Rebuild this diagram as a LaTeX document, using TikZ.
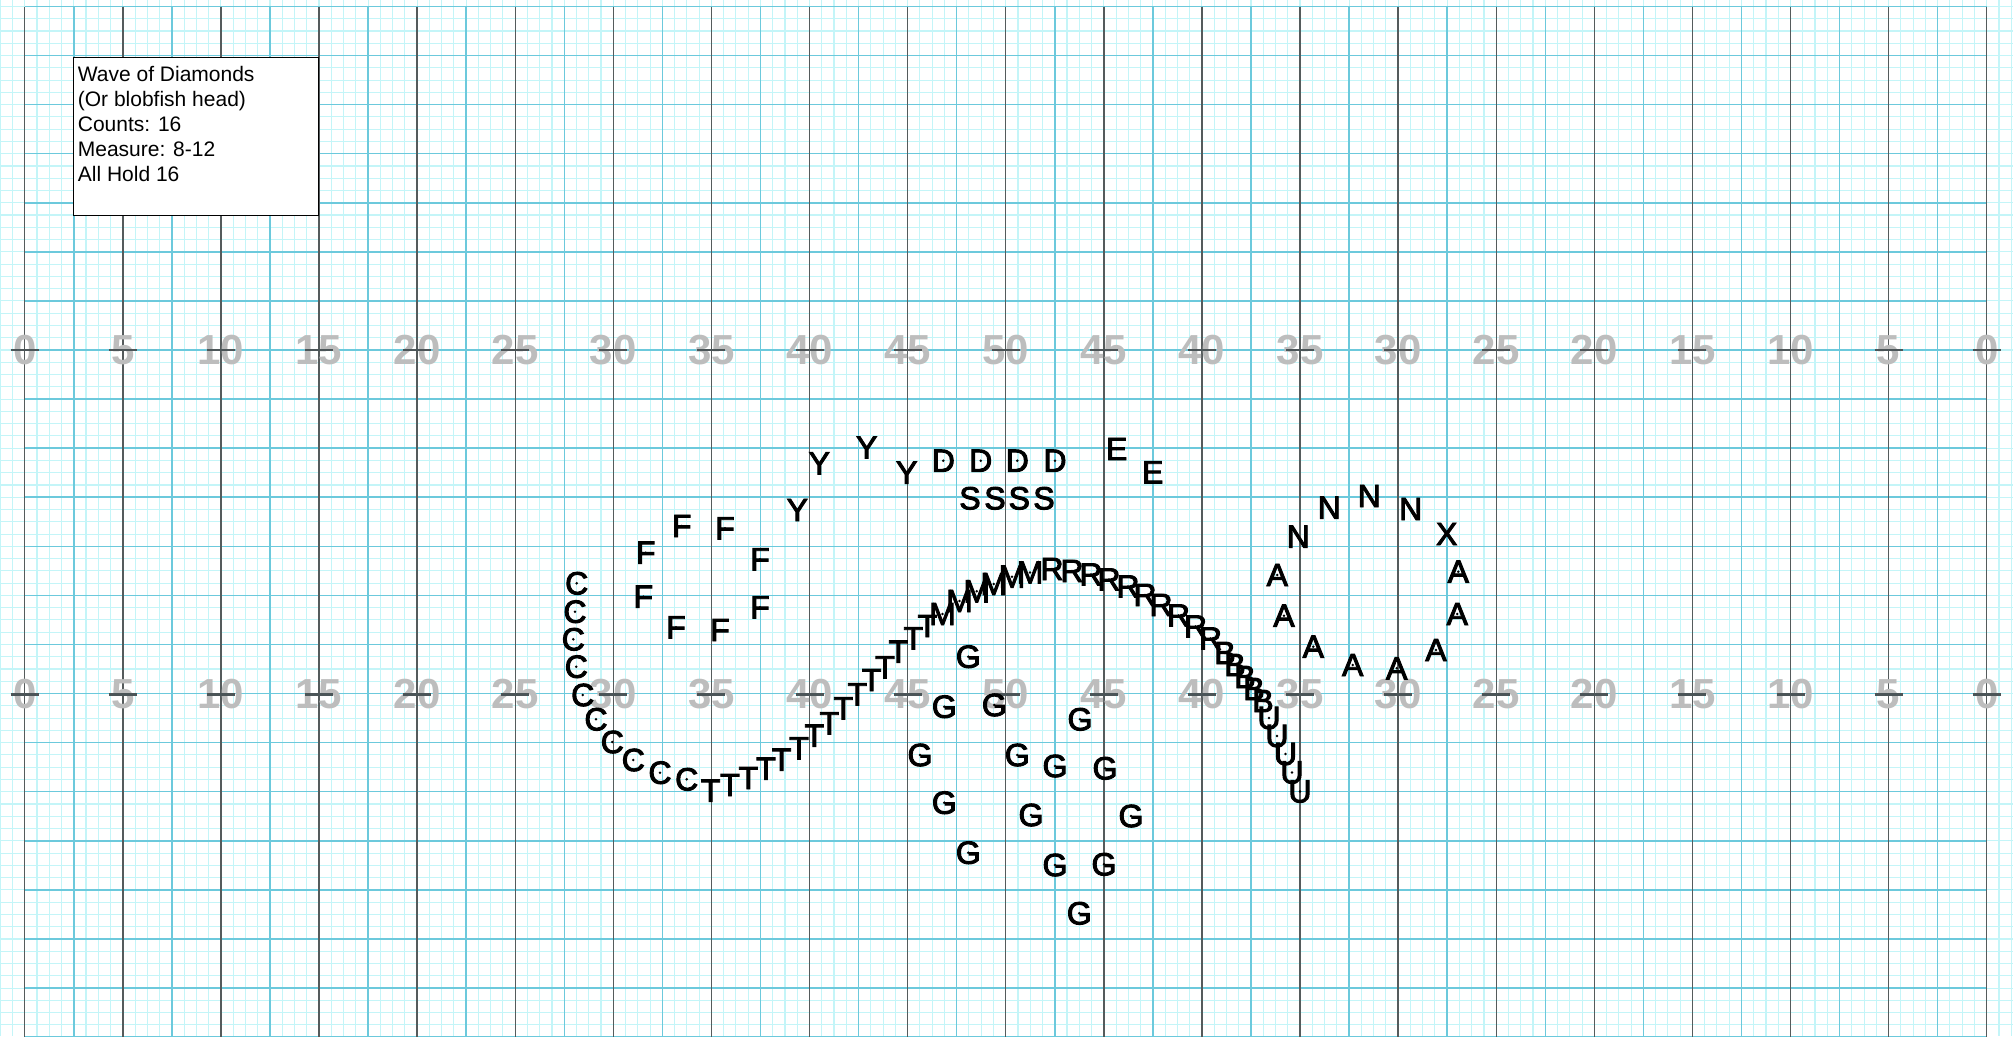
\documentclass[tikz,border=0pt]{standalone}
\usepackage{fontspec}
\setmainfont{Liberation Sans}
\newfontfamily\marcherfont[FakeBold=3]{Liberation Sans}
\usepackage{tikz}
\usetikzlibrary{positioning}
\definecolor{gridfine}{HTML}{C4F5F8}
\definecolor{gridmajor}{HTML}{6CC9DC}
\definecolor{gridyard}{HTML}{555B5C}
\definecolor{gridhash}{HTML}{4B5558}
\definecolor{gridnum}{HTML}{BDBDBD}

\begin{document}
\begin{tikzpicture}[x=1pt,y=-1pt,
  fineline/.style={draw=gridfine,line width=1.1pt},
  majorline/.style={draw=gridmajor,line width=1.5pt},
  yardline/.style={draw=gridyard,line width=1.4pt},
  hashline/.style={draw=gridhash,line width=2.8pt},
  yardnumber/.style={text=gridnum,inner sep=0pt,font=\fontsize{42}{42}\selectfont\bfseries},
  marcher/.style={inner sep=0pt,font=\fontsize{32}{32}\marcherfont},
  infobox/.style={draw,fill=white,line width=1pt,minimum width=245pt,minimum height=158.3pt,anchor=north west,inner sep=0pt},
  infotext/.style={align=left,inner sep=0pt,font=\fontsize{21}{25}\selectfont}]
\useasboundingbox (0,0) rectangle (2013,1036);
\clip (0,0) rectangle (2013,1036);
\foreach \k in {-2,...,162} \draw[fineline] ({24.7+\k*12.2625},0) -- ++(0,1036);
\foreach \m in {-29,...,56} \draw[fineline] (0,{350+\m*12.27}) -- (2013,{350+\m*12.27});
\foreach \k in {1,3,...,39} \draw[majorline] ({24.7+\k*49.05},6.7) -- ++(0,1030);
\foreach \m in {-7,...,14} \draw[majorline] (24.7,{350+\m*49.08}) -- (1986.7,{350+\m*49.08});
\foreach \k in {0,...,20} \draw[yardline] ({24.7+\k*98.1},6.7) -- ++(0,1030);
\foreach \k in {0,...,20} {
  \pgfmathtruncatemacro\num{5*(10-abs(\k-10))}
  \foreach \r/\h in {1/350,2/694.3} {
    \node[yardnumber] (num\r-\k) at ({24.7+\k*98.1},\h) {\num};
    \draw[hashline] ([xshift=-14pt]num\r-\k.center) -- ([xshift=14pt]num\r-\k.center);
  }
}
\foreach \x/\y [count=\i] in {576.7/583.3,575/611.7,573.3/639.3,576.3/666.7,582.7/695,596/719.3,612.3/742,633.3/760,660/772.7,686.7/779.3}
  {\node[marcher] (c\i) at (\x,\y) {C}; \fill (c\i) circle (1.4);}
\foreach \x/\y [count=\i] in {710.7/790.7,730/785,748.3/778,766/768.7,781.7/759.7,799/748.3,814.3/735.7,829.3/723.3,843.3/708.3,857.3/694.3,871.7/680,885/667.3,898.3/651.7,913.3/638.3,927.3/626}
  {\node[marcher] (t\i) at (\x,\y) {T}; \fill (t\i) circle (1.4);}
\foreach \x/\y [count=\i] in {942.5/614,959.5/601,976.7/591.3,993.7/584,1012/576.7,1030/572.5}
  {\node[marcher] (m\i) at (\x,\y) {M}; \fill (m\i) circle (1.4);}
\foreach \x/\y [count=\i] in {1052/569,1072/571,1091/574.5,1109/579.5,1128/586.5,1145/595,1161/605,1178.5/615.5,1195.5/626.5,1210.5/638.5}
  {\node[marcher] (r\i) at (\x,\y) {R}; \fill (r\i) circle (1.4);}
\foreach \x/\y [count=\i] in {1225/653,1235/665,1245/677,1254/689,1263/701}
  {\node[marcher] (b\i) at (\x,\y) {B}; \fill (b\i) circle (1.4);}
\foreach \x/\y [count=\i] in {1269/718,1277/736,1285.5/754,1292/772.5,1300/791.5}
  {\node[marcher] (u\i) at (\x,\y) {U}; \fill (u\i) circle (1.4);}
\foreach \x/\y [count=\i] in {1277.3/575,1284/615.7,1313.3/646.7,1352.7/665,1396.7/668.3,1436/650,1457.3/614,1458.3/571.7}
  {\node[marcher] (a\i) at (\x,\y) {A}; \fill (a\i) circle (1.4);}
\node[marcher] (x1) at (1446.7,534) {X};
\fill (x1) circle (1.4);
\foreach \x/\y [count=\i] in {1298.3/536.7,1329.3/507.7,1369.3/496,1410.7/509}
  {\node[marcher] (n\i) at (\x,\y) {N}; \fill (n\i) circle (1.4);}
\foreach \x/\y [count=\i] in {968.3/656.7,944.3/706.7,994.3/705,1080/719.3,920/755,1017.3/755,1055/766,1105/768.3,944.3/802.7,1031/815,1131/816,968.3/852.7,1055/865,1104/864.3,1079.3/913.3}
  {\node[marcher] (g\i) at (\x,\y) {G}; \fill (g\i) circle (1.4);}
\foreach \x/\y [count=\i] in {645.7/552.7,681.7/526,725/528.3,760/559.3,643.3/596.7,676/627.3,720/630,760/607.3}
  {\node[marcher] (f\i) at (\x,\y) {F}; \fill (f\i) circle (1.4);}
\foreach \x/\y [count=\i] in {797.3/510,819.3/463.3,866.7/447.5,906.7/472.7}
  {\node[marcher] (y\i) at (\x,\y) {Y}; \fill (y\i) circle (1.4);}
\foreach \x/\y [count=\i] in {943.3/460.7,980.7/460.7,1017.3/460.7,1055/460.7}
  {\node[marcher] (d\i) at (\x,\y) {D}; \fill (d\i) circle (1.4);}
\foreach \x/\y [count=\i] in {970/498.3,995/498.3,1019.3/498.3,1044/498.3}
  {\node[marcher] (s\i) at (\x,\y) {S}; \fill (s\i) circle (1.4);}
\foreach \x/\y [count=\i] in {1116.7/449,1152.7/472.3}
  {\node[marcher] (e\i) at (\x,\y) {E}; \fill (e\i) circle (1.4);}
\node[infobox] (info) at (73.3,56.7) {};
\node[infotext,below right=9.7pt and 4.4pt of info.north west] (infotxt) {Wave of Diamonds\\(Or blobfish head)\\Counts: 16\\Measure: 8-12\\All Hold 16};
\end{tikzpicture}
\end{document}
